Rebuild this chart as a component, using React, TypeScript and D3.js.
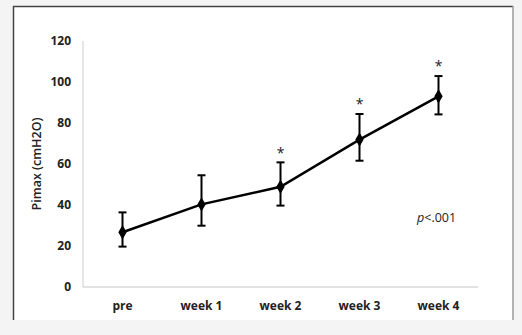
import React from "react";
import * as d3 from "d3";

const categories = ["pre", "week 1", "week 2", "week 3", "week 4"];
const means = [26.7, 40.3, 48.9, 71.9, 93.0];
const errHigh = [36.4, 54.5, 60.8, 84.4, 102.9];
const errLow = [19.7, 29.9, 39.7, 61.6, 84.2];
const significant = [false, false, true, true, true];
const yTicks = [0, 20, 40, 60, 80, 100, 120];

const W = 522;
const H = 335;
const plot = { left: 83, right: 478, top: 41, bottom: 287 };

export default function App() {
  const x = d3
    .scaleBand<string>()
    .domain(categories)
    .range([plot.left, plot.right]);
  const y = d3.scaleLinear().domain([0, 120]).range([plot.bottom, plot.top]);
  const cx = (c: string) => (x(c) as number) + x.bandwidth() / 2;

  const line = d3
    .line<number>()
    .x((_, i) => cx(categories[i]))
    .y((d) => y(d));

  const diamond = d3.symbol().type(d3.symbolDiamond).size(60)();
  const font = "'Open Sans', 'DejaVu Sans', sans-serif";

  return (
    <svg
      width={W}
      height={H}
      style={{ position: "absolute", left: 0, top: 0, display: "block" }}
    >
      <rect x={0} y={0} width={W} height={H} fill="#f3f4f3" />
      <rect x={13} y={6} width={500} height={314} fill="#ffffff" />
      <line x1={13.5} y1={6} x2={13.5} y2={320} stroke="#444" strokeWidth={1.5} />
      <line x1={13} y1={6.5} x2={513} y2={6.5} stroke="#444" strokeWidth={1.5} />
      <line x1={513} y1={6} x2={513} y2={320} stroke="#9a9a9a" strokeWidth={1.5} />

      {/* axes */}
      <line x1={plot.left} y1={plot.top} x2={plot.left} y2={plot.bottom} stroke="#d9d9d9" strokeWidth={1.3} />
      <line x1={plot.left} y1={plot.bottom} x2={plot.right} y2={plot.bottom} stroke="#d9d9d9" strokeWidth={1.3} />

      {yTicks.map((t) => (
        <text
          key={t}
          x={71}
          y={y(t)}
          dy="0.35em"
          textAnchor="end"
          fontFamily={font}
          fontWeight="bold"
          fontSize={12}
          fill="#222"
        >
          {t}
        </text>
      ))}

      {categories.map((c) => (
        <text
          key={c}
          x={cx(c)}
          y={306}
          dy="0.35em"
          textAnchor="middle"
          fontFamily={font}
          fontWeight="bold"
          fontSize={12}
          fill="#222"
        >
          {c}
        </text>
      ))}

      <text
        transform={`translate(37,${(plot.top + plot.bottom) / 2}) rotate(-90)`}
        dy="0.35em"
        textAnchor="middle"
        fontFamily={font}
        fontSize={12.5}
        fontWeight={600}
        fill="#222"
      >
        Pimax (cmH2O)
      </text>

      {/* error bars */}
      {categories.map((c, i) => (
        <g key={c} stroke="#000" strokeWidth={2}>
          <line x1={cx(c)} x2={cx(c)} y1={y(errLow[i])} y2={y(errHigh[i])} />
          <line x1={cx(c) - 4} x2={cx(c) + 4} y1={y(errLow[i])} y2={y(errLow[i])} />
          <line x1={cx(c) - 4} x2={cx(c) + 4} y1={y(errHigh[i])} y2={y(errHigh[i])} />
        </g>
      ))}

      <path d={line(means) ?? ""} fill="none" stroke="#000" strokeWidth={2.5} />

      {categories.map((c, i) => (
        <path
          key={c}
          d={diamond ?? ""}
          transform={`translate(${cx(c)},${y(means[i])})`}
          fill="#000"
        />
      ))}

      {categories.map((c, i) =>
        significant[i] ? (
          <text
            key={c}
            x={cx(c)}
            y={y(errHigh[i]) - 13}
            dy="0.6em"
            textAnchor="middle"
            fontFamily={font}
            fontSize={14}
            fill="#222"
          >
            *
          </text>
        ) : null
      )}

      <text x={417} y={218} dy="0.35em" fontFamily={font} fontSize={12.5} fill="#222">
        <tspan fontStyle="italic">p</tspan>
        {"<.001"}
      </text>
    </svg>
  );
}
